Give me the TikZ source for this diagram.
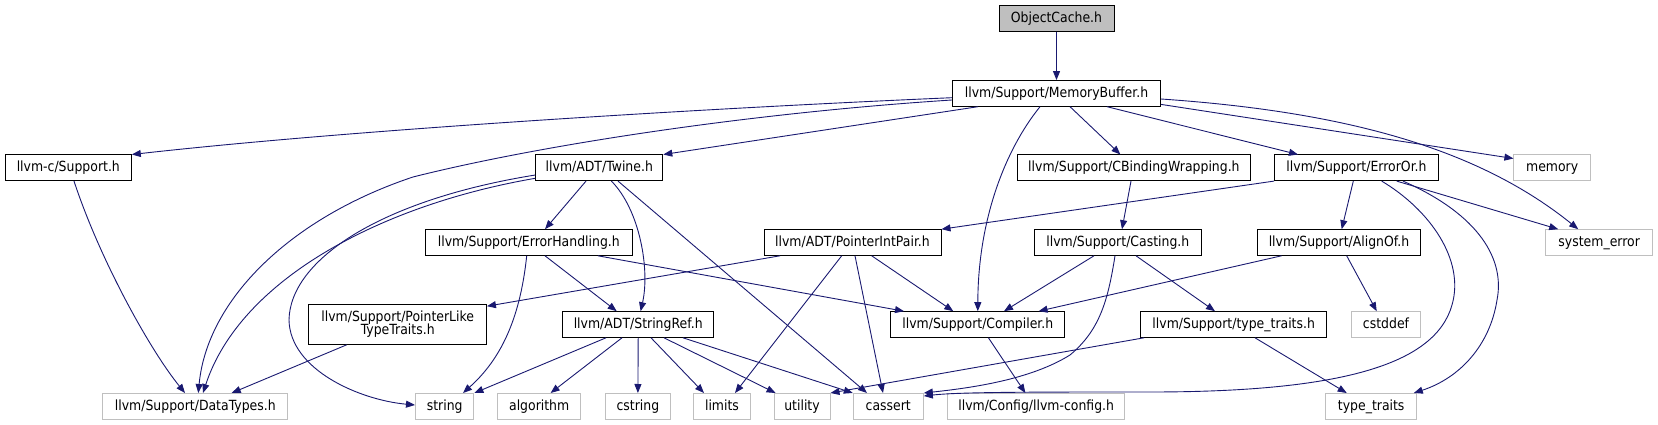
\documentclass[tikz,border=0pt]{standalone}
\usepackage{fontspec}
\setmainfont{DejaVu Sans}[FakeStretch=0.89]
\usetikzlibrary{arrows.meta}
\definecolor{edgeblue}{HTML}{191970}
\definecolor{greyc}{HTML}{BFBFBF}
\begin{document}
\begin{tikzpicture}[x=1pt,y=-1pt,
  box/.style={draw=black, line width=1pt, fill=white, inner sep=0pt,
    minimum height=25.6pt, text height=11pt, text depth=3.2pt,
    font=\fontsize{14}{13.6}\selectfont},
  boxtwo/.style={draw=black, line width=1pt, fill=white, inner sep=0pt,
    align=center, font=\fontsize{14}{13.6}\selectfont},
  ext/.style={box, draw=greyc},
  edge/.style={draw=edgeblue, line width=0.9pt, -{Triangle[length=9pt,width=7pt]}}]
\useasboundingbox (0,0) rectangle (1658,425);
% row 1
\node[box, fill=greyc, minimum width=115pt] (oc) at (1056.5,18.7) {ObjectCache.h};
\node[box, minimum width=208pt] (mb) at (1056.5,93.4) {llvm/Support/MemoryBuffer.h};
% row 2
\node[box, minimum width=126pt] (cs) at (68.3,167.8) {llvm-c/Support.h};
\node[box, minimum width=127pt] (tw) at (599.3,167.8) {llvm/ADT/Twine.h};
\node[box, minimum width=233pt] (cb) at (1133.9,167.8) {llvm/Support/CBindingWrapping.h};
\node[box, minimum width=164pt] (eo) at (1356.5,167.8) {llvm/Support/ErrorOr.h};
\node[ext, minimum width=76.6pt] (mem) at (1552.2,167.8) {memory};
% row 3
\node[box, minimum width=207.6pt] (eh) at (528.8,242.5) {llvm/Support/ErrorHandling.h};
\node[box, minimum width=177pt] (pip) at (852.5,242.5) {llvm/ADT/PointerIntPair.h};
\node[box, minimum width=167pt] (ca) at (1117.8,242.5) {llvm/Support/Casting.h};
\node[box, minimum width=162.6pt] (ao) at (1339,242.5) {llvm/Support/AlignOf.h};
\node[ext, minimum width=106.6pt] (se) at (1599.2,242.5) {system\_error};
% row 4
\node[boxtwo, minimum width=177.5pt, minimum height=40pt] (plt) at (397.7,324.3) {llvm/Support/PointerLike\\TypeTraits.h};
\node[box, minimum width=151pt] (sr) at (638.2,324.5) {llvm/ADT/StringRef.h};
\node[box, minimum width=174.3pt] (co) at (977.8,324.5) {llvm/Support/Compiler.h};
\node[box, minimum width=186.4pt] (tth) at (1233.7,324.5) {llvm/Support/type\_traits.h};
\node[ext, minimum width=68.7pt] (cd) at (1386,324.5) {cstddef};
% row 5
\node[ext, minimum width=185pt] (dt) at (195.3,406.3) {llvm/Support/DataTypes.h};
\node[ext, minimum width=58.4pt] (str) at (444.7,406.3) {string};
\node[ext, minimum width=83pt] (alg) at (539.2,406.3) {algorithm};
\node[ext, minimum width=65.7pt] (cst) at (637.9,406.3) {cstring};
\node[ext, minimum width=56.5pt] (lim) at (722,406.3) {limits};
\node[ext, minimum width=56pt] (ut) at (802,406.3) {utility};
\node[ext, minimum width=70pt] (cas) at (888.3,406.3) {cassert};
\node[ext, minimum width=177pt] (cfg) at (1036.2,406.3) {llvm/Config/llvm-config.h};
\node[ext, minimum width=91pt] (tt) at (1371.2,406.3) {type\_traits};
% edges from ObjectCache / MemoryBuffer
\draw[edge] (oc) -- (mb);
\draw[edge] ([yshift=-4.3pt]mb.west) .. controls (700,108.5) and (350,130) .. (cs.north east);
\draw[edge] ([yshift=-6.6pt]mb.west) .. controls (750,113) and (540,145) .. (413,177) .. controls (290,218) and (207,300) .. ([xshift=3pt]dt.north);
\draw[edge] ([xshift=-78.5pt]mb.south) -- (tw.north east);
\draw[edge] ([xshift=-16.5pt]mb.south) .. controls (1005,150) and (978,220) .. (co.north);
\draw[edge] ([xshift=13.5pt]mb.south) -- ([xshift=-13.5pt]cb.north);
\draw[edge] ([xshift=50.5pt]mb.south) -- ([xshift=-58.5pt]eo.north);
\draw[edge] ([yshift=-11pt]mb.east) -- ([yshift=9.3pt]mem.west);
\draw[edge] ([yshift=-5.6pt]mb.east) .. controls (1350,112) and (1480,150) .. ([xshift=-21pt]se.north);
% llvm-c/Support.h
\draw[edge] ([xshift=5.7pt]cs.south) .. controls (100,260) and (150,350) .. ([xshift=-10.3pt]dt.north);
% Twine
\draw[edge] ([yshift=-10.5pt]tw.west) .. controls (380,205) and (240,280) .. ([xshift=7.7pt]dt.north);
\draw[edge] ([yshift=-7.2pt]tw.west) .. controls (380,200) and (290,260) .. (289,320) .. controls (290,370) and (360,400) .. ([yshift=1.3pt]str.west);
\draw[edge] ([xshift=-13.3pt]tw.south) -- ([xshift=16.2pt]eh.north);
\draw[edge] ([xshift=12.1pt]tw.south) .. controls (640,210) and (650,270) .. ([xshift=2.4pt]sr.north);
\draw[edge] ([xshift=18.7pt]tw.south) -- ([xshift=-21.3pt]cas.north);
% CBindingWrapping
\draw[edge] ([xshift=-2.9pt]cb.south) -- ([xshift=4.2pt]ca.north);
% ErrorOr
\draw[edge] (eo.south west) -- (pip.north east);
\draw[edge] ([xshift=-3.2pt]eo.south) -- ([xshift=2.7pt]ao.north);
\draw[edge] ([xshift=40.2pt]eo.south) -- ([xshift=-41pt]se.north);
\draw[edge] ([xshift=25.2pt]eo.south) .. controls (1430,210) and (1465,260) .. (1452,305) .. controls (1435,365) and (1340,392) .. (1150,392) .. controls (1030,392) and (960,392) .. ([yshift=-3pt]cas.north east);
\draw[edge] ([xshift=46.5pt]eo.south) .. controls (1480,215) and (1505,260) .. (1497,300) .. controls (1490,345) and (1460,378) .. ([xshift=-3.4pt]tt.north east);
% ErrorHandling
\draw[edge] ([xshift=-2.1pt]eh.south) .. controls (520,320) and (500,360) .. ([xshift=18.3pt]str.north);
\draw[edge] ([xshift=16.2pt]eh.south) -- ([xshift=-21.5pt]sr.north);
\draw[edge] ([xshift=69.2pt]eh.south) -- ([xshift=-73.8pt]co.north);
% PointerIntPair
\draw[edge] ([xshift=-72.5pt]pip.south) -- ([yshift=-2.4pt]plt.north east);
\draw[edge] ([xshift=19.2pt]pip.south) -- ([xshift=-24.5pt]co.north);
\draw[edge] ([xshift=-10.8pt]pip.south) -- ([xshift=13pt]lim.north);
\draw[edge] ([xshift=2.5pt]pip.south) -- ([xshift=-5.3pt]cas.north);
% Casting
\draw[edge] ([xshift=-23.8pt]ca.south) -- ([xshift=26.2pt]co.north);
\draw[edge] ([xshift=-2.8pt]ca.south) .. controls (1108,300) and (1100,330) .. (1070,355) .. controls (1030,380) and (970,388) .. (cas.north east);
\draw[edge] ([xshift=18.2pt]ca.south) -- ([xshift=-18.7pt]tth.north);
% AlignOf
\draw[edge] ([xshift=-57.5pt]ao.south) -- ([xshift=60.8pt]co.north);
\draw[edge] ([xshift=7.7pt]ao.south) -- ([xshift=-9.3pt]cd.north);
% PointerLikeTypeTraits
\draw[edge] ([xshift=-51pt]plt.south) -- ([xshift=36.4pt]dt.north);
% StringRef
\draw[edge] ([xshift=-32.2pt]sr.south) -- (str.north east);
\draw[edge] ([xshift=-16.2pt]sr.south) -- ([xshift=11.4pt]alg.north);
\draw[edge] (sr.south) -- (cst.north);
\draw[edge] ([xshift=12.8pt]sr.south) -- ([xshift=-18pt]lim.north);
\draw[edge] ([xshift=25.8pt]sr.south) -- ([xshift=-26.4pt]ut.north);
\draw[edge] ([xshift=44.8pt]sr.south) -- (cas.north west);
% Compiler
\draw[edge] ([xshift=10.6pt]co.south) -- ([xshift=-10.8pt]cfg.north);
% type_traits.h
\draw[edge] ([xshift=4pt]tth.south west) -- (ut.north east);
\draw[edge] ([xshift=21.3pt]tth.south) -- ([xshift=-24.5pt]tt.north);
\end{tikzpicture}
\end{document}
